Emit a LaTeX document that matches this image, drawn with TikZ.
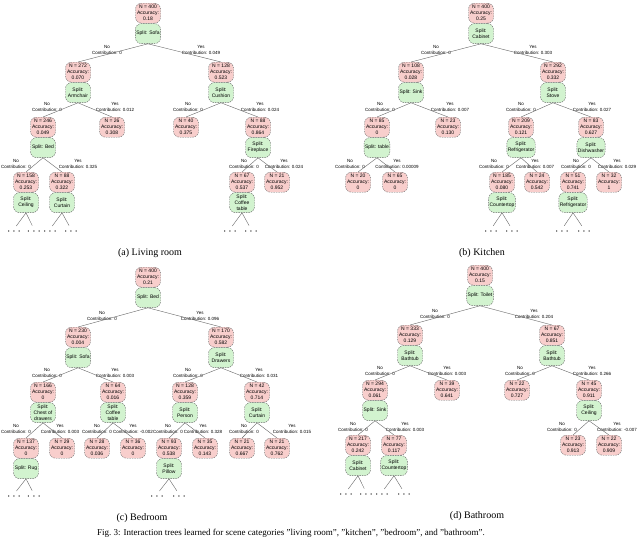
\documentclass[tikz,border=0pt]{standalone}
\usepackage{fontspec}
\setmainfont{Liberation Serif}
\newfontfamily\boxfont{Liberation Sans}
\usepackage{tikz}
\usetikzlibrary{positioning}

\definecolor{statred}{HTML}{F8CECC}
\definecolor{splitgreen}{HTML}{D2F3CF}

\begin{document}
\begin{tikzpicture}[
    x=1pt, y=-1pt,
    statbox/.style={rectangle, rounded corners=6pt, draw=black!60, dashed, dash pattern=on 1.5pt off 1pt, fill=statred, anchor=north, align=center, minimum width=25pt, minimum height=20pt, inner sep=1pt, font=\boxfont\fontsize{5}{6}\selectfont},
    splitbox/.style={statbox, fill=splitgreen},
    edgelbl/.style={align=center, inner sep=0pt, font=\boxfont\fontsize{4.5}{5.5}\selectfont},
    conn/.style={draw=black!60, line width=0.4pt},
    more/.style={inner sep=0pt, font=\fontsize{12}{12}\selectfont},
    subcap/.style={anchor=base, font=\fontsize{10}{12}\selectfont},
]
\useasboundingbox (0,0) rectangle (640,538);

% (a) living room
\node[statbox] (a0) at (148,3) {N = 400\\Accuracy:\\0.18};
\node[splitbox, below=0pt of a0] (a0s) {Split: Sofa};
\node[statbox] (a1) at (78,62) {N = 272\\Accuracy:\\0.070};
\node[splitbox, below=0pt of a1] (a1s) {Split:\\Armchair};
\node[statbox] (a2) at (221,62) {N = 128\\Accuracy:\\0.523};
\node[splitbox, below=0pt of a2] (a2s) {Split:\\Cushion};
\node[statbox] (a11) at (43,117) {N = 246\\Accuracy:\\0.049};
\node[splitbox, below=0pt of a11] (a11s) {Split: Bed};
\node[statbox] (a12) at (112,117) {N = 26\\Accuracy:\\0.308};
\node[statbox] (a21) at (186,117) {N = 40\\Accuracy:\\0.375};
\node[statbox] (a22) at (258,117) {N = 88\\Accuracy:\\0.864};
\node[splitbox, below=0pt of a22] (a22s) {Split:\\Fireplace};
\node[statbox] (a111) at (26,172) {N = 158\\Accuracy:\\0.253};
\node[splitbox, below=0pt of a111] (a111s) {Split:\\Ceiling};
\node[statbox] (a112) at (62,172) {N = 88\\Accuracy:\\0.322};
\node[splitbox, below=0pt of a112] (a112s) {Split:\\Curtain};
\node[statbox] (a221) at (242,172) {N = 67\\Accuracy:\\0.537};
\node[splitbox, below=0pt of a221] (a221s) {Split:\\Coffee\\table};
\node[statbox] (a222) at (277,172) {N = 21\\Accuracy:\\0.952};

\node[edgelbl] (la1) at (107,50) {No\\Contribution: 0};
\node[edgelbl] (la2) at (201,50) {Yes\\Contribution: 0.049};
\node[edgelbl] (la11) at (47,107) {No\\Contribution: 0};
\node[edgelbl] (la12) at (115,107) {Yes\\Contribution: 0.012};
\node[edgelbl] (la21) at (188,107) {No\\Contribution: 0};
\node[edgelbl] (la22) at (260,107) {Yes\\Contribution: 0.024};
\node[edgelbl] (la111) at (16,164) {No\\Contribution: 0};
\node[edgelbl] (la112) at (78,164) {Yes\\Contribution: 0.325};
\node[edgelbl] (la221) at (244,164) {No\\Contribution: 0};
\node[edgelbl] (la222) at (284,164) {Yes\\Contribution: 0.024};

\node[more] (ma1) at (14,232) {$\cdots$};
\node[more] (ma2) at (34,232) {$\cdots$};
\node[more] (ma3) at (50,232) {$\cdots$};
\node[more] (ma4) at (71,232) {$\cdots$};
\node[more] (ma5) at (230,232) {$\cdots$};
\node[more] (ma6) at (251,232) {$\cdots$};

\draw[conn] (a0s.south) -- (a1.north);
\draw[conn] (a0s.south) -- (a2.north);
\draw[conn] (a1s.south) -- (a11.north);
\draw[conn] (a1s.south) -- (a12.north);
\draw[conn] (a2s.south) -- (a21.north);
\draw[conn] (a2s.south) -- (a22.north);
\draw[conn] (a11s.south) -- (a111.north);
\draw[conn] (a11s.south) -- (a112.north);
\draw[conn] (a22s.south) -- (a221.north);
\draw[conn] (a22s.south) -- (a222.north);
\draw[conn, shorten >=4pt] (a111s.south) -- (ma1.north);
\draw[conn, shorten >=4pt] (a111s.south) -- (ma2.north);
\draw[conn, shorten >=4pt] (a112s.south) -- (ma3.north);
\draw[conn, shorten >=4pt] (a112s.south) -- (ma4.north);
\draw[conn, shorten >=4pt] (a221s.south) -- (ma5.north);
\draw[conn, shorten >=4pt] (a221s.south) -- (ma6.north);

\node[subcap] (capa) at (150,255) {(a) Living room};

% (b) kitchen
\node[statbox] (b0) at (481,3) {N = 400\\Accuracy:\\0.25};
\node[splitbox, below=0pt of b0] (b0s) {Split:\\Cabinet};
\node[statbox] (b1) at (411,62) {N = 108\\Accuracy:\\0.028};
\node[splitbox, below=0pt of b1] (b1s) {Split: Sink};
\node[statbox] (b2) at (553,62) {N = 292\\Accuracy:\\0.332};
\node[splitbox, below=0pt of b2] (b2s) {Split:\\Stove};
\node[statbox] (b11) at (377,117) {N = 85\\Accuracy:\\0};
\node[splitbox, below=0pt of b11] (b11s) {Split: table};
\node[statbox] (b12) at (448,117) {N = 23\\Accuracy:\\0.130};
\node[statbox] (b21) at (521,117) {N = 209\\Accuracy:\\0.121};
\node[splitbox, below=0pt of b21] (b21s) {Split:\\Refrigerator};
\node[statbox] (b22) at (591,117) {N = 83\\Accuracy:\\0.627};
\node[splitbox, below=0pt of b22] (b22s) {Split:\\Dishwasher};
\node[statbox] (b111) at (358,172) {N = 20\\Accuracy:\\0};
\node[statbox] (b112) at (395,172) {N = 65\\Accuracy:\\0};
\node[statbox] (b211) at (502,172) {N = 185\\Accuracy:\\0.080};
\node[splitbox, below=0pt of b211] (b211s) {Split:\\Countertop};
\node[statbox] (b212) at (537,172) {N = 24\\Accuracy:\\0.542};
\node[statbox] (b221) at (573,172) {N = 51\\Accuracy:\\0.741};
\node[splitbox, below=0pt of b221] (b221s) {Split:\\Refrigerator};
\node[statbox] (b222) at (609,172) {N = 32\\Accuracy:\\1};

\node[edgelbl] (lb1) at (436,50) {No\\Contribution: 0};
\node[edgelbl] (lb2) at (533,50) {Yes\\Contribution: 0.303};
\node[edgelbl] (lb11) at (380,107) {No\\Contribution: 0};
\node[edgelbl] (lb12) at (450,107) {Yes\\Contribution: 0.007};
\node[edgelbl] (lb21) at (521,107) {No\\Contribution: 0};
\node[edgelbl] (lb22) at (592,107) {Yes\\Contribution: 0.027};
\node[edgelbl] (lb111) at (350,164) {No\\Contribution: 0};
\node[edgelbl] (lb112) at (397,164) {Yes\\Contribution: 0.00009};
\node[edgelbl] (lb211) at (494,164) {No\\Contribution: 0};
\node[edgelbl] (lb212) at (535,164) {Yes\\Contribution: 0.007};
\node[edgelbl] (lb221) at (576,164) {No\\Contribution: 0};
\node[edgelbl] (lb222) at (617,164) {Yes\\Contribution: 0.029};

\node[more] (mb1) at (491,232) {$\cdots$};
\node[more] (mb2) at (512,232) {$\cdots$};
\node[more] (mb3) at (562,232) {$\cdots$};
\node[more] (mb4) at (584,232) {$\cdots$};

\draw[conn] (b0s.south) -- (b1.north);
\draw[conn] (b0s.south) -- (b2.north);
\draw[conn] (b1s.south) -- (b11.north);
\draw[conn] (b1s.south) -- (b12.north);
\draw[conn] (b2s.south) -- (b21.north);
\draw[conn] (b2s.south) -- (b22.north);
\draw[conn] (b11s.south) -- (b111.north);
\draw[conn] (b11s.south) -- (b112.north);
\draw[conn] (b21s.south) -- (b211.north);
\draw[conn] (b21s.south) -- (b212.north);
\draw[conn] (b22s.south) -- (b221.north);
\draw[conn] (b22s.south) -- (b222.north);
\draw[conn, shorten >=4pt] (b211s.south) -- (mb1.north);
\draw[conn, shorten >=4pt] (b211s.south) -- (mb2.north);
\draw[conn, shorten >=4pt] (b221s.south) -- (mb3.north);
\draw[conn, shorten >=4pt] (b221s.south) -- (mb4.north);

\node[subcap] (capb) at (482,255) {(b) Kitchen};

% (c) bedroom
\node[statbox] (c0) at (148,267) {N = 400\\Accuracy:\\0.21};
\node[splitbox, below=0pt of c0] (c0s) {Split: Bed};
\node[statbox] (c1) at (78,327) {N = 230\\Accuracy:\\0.004};
\node[splitbox, below=0pt of c1] (c1s) {Split: Sofa};
\node[statbox] (c2) at (221,327) {N = 170\\Accuracy:\\0.582};
\node[splitbox, below=0pt of c2] (c2s) {Split:\\Drawers};
\node[statbox] (c11) at (43,382) {N = 166\\Accuracy:\\0};
\node[splitbox, below=0pt of c11] (c11s) {Split:\\Chest of\\drawers};
\node[statbox] (c12) at (113,382) {N = 64\\Accuracy:\\0.016};
\node[splitbox, below=0pt of c12] (c12s) {Split:\\Coffee\\table};
\node[statbox] (c21) at (185,382) {N = 128\\Accuracy:\\0.359};
\node[splitbox, below=0pt of c21] (c21s) {Split:\\Person};
\node[statbox] (c22) at (257,382) {N = 42\\Accuracy:\\0.714};
\node[splitbox, below=0pt of c22] (c22s) {Split:\\Curtain};
\node[statbox] (c111) at (26,438) {N = 137\\Accuracy:\\0};
\node[splitbox, below=0pt of c111] (c111s) {Split: Rug};
\node[statbox] (c112) at (62,438) {N = 29\\Accuracy:\\0};
\node[statbox] (c121) at (97,438) {N = 28\\Accuracy:\\0.036};
\node[statbox] (c122) at (133,438) {N = 36\\Accuracy:\\0};
\node[statbox] (c211) at (169,438) {N = 93\\Accuracy:\\0.538};
\node[splitbox, below=0pt of c211] (c211s) {Split:\\Pillow};
\node[statbox] (c212) at (205,438) {N = 35\\Accuracy:\\0.143};
\node[statbox] (c221) at (242,438) {N = 21\\Accuracy:\\0.667};
\node[statbox] (c222) at (277,438) {N = 21\\Accuracy:\\0.762};

\node[edgelbl] (lc1) at (102,316) {No\\Contribution: 0};
\node[edgelbl] (lc2) at (200,316) {Yes\\Contribution: 0.096};
\node[edgelbl] (lc11) at (47,373) {No\\Contribution: 0};
\node[edgelbl] (lc12) at (115,373) {Yes\\Contribution: 0.003};
\node[edgelbl] (lc21) at (188,373) {No\\Contribution: 0};
\node[edgelbl] (lc22) at (259,373) {Yes\\Contribution: 0.031};
\node[edgelbl] (lc111) at (16,429) {No\\Contribution: 0};
\node[edgelbl] (lc112) at (60,429) {Yes\\Contribution: 0.003};
\node[edgelbl] (lc121) at (97,429) {No\\Contribution: 0};
\node[edgelbl] (lc122) at (133,429) {Yes\\Contribution: -0.002};
\node[edgelbl] (lc211) at (168,429) {No\\Contribution: 0};
\node[edgelbl] (lc212) at (203,429) {Yes\\Contribution: 0.328};
\node[edgelbl] (lc221) at (244,429) {No\\Contribution: 0};
\node[edgelbl] (lc222) at (292,429) {Yes\\Contribution: 0.015};

\node[more] (mc1) at (14,497) {$\cdots$};
\node[more] (mc2) at (34,497) {$\cdots$};
\node[more] (mc3) at (157,497) {$\cdots$};
\node[more] (mc4) at (179,497) {$\cdots$};

\draw[conn] (c0s.south) -- (c1.north);
\draw[conn] (c0s.south) -- (c2.north);
\draw[conn] (c1s.south) -- (c11.north);
\draw[conn] (c1s.south) -- (c12.north);
\draw[conn] (c2s.south) -- (c21.north);
\draw[conn] (c2s.south) -- (c22.north);
\draw[conn] (c11s.south) -- (c111.north);
\draw[conn] (c11s.south) -- (c112.north);
\draw[conn] (c12s.south) -- (c121.north);
\draw[conn] (c12s.south) -- (c122.north);
\draw[conn] (c21s.south) -- (c211.north);
\draw[conn] (c21s.south) -- (c212.north);
\draw[conn] (c22s.south) -- (c221.north);
\draw[conn] (c22s.south) -- (c222.north);
\draw[conn, shorten >=4pt] (c111s.south) -- (mc1.north);
\draw[conn, shorten >=4pt] (c111s.south) -- (mc2.north);
\draw[conn, shorten >=4pt] (c211s.south) -- (mc3.north);
\draw[conn, shorten >=4pt] (c211s.south) -- (mc4.north);

\node[subcap] (capc) at (142,520) {(c) Bedroom};

% (d) bathroom
\node[statbox] (d0) at (480,265) {N = 400\\Accuracy:\\0.15};
\node[splitbox, below=0pt of d0] (d0s) {Split: Toilet};
\node[statbox] (d1) at (410,325) {N = 333\\Accuracy:\\0.129};
\node[splitbox, below=0pt of d1] (d1s) {Split:\\Bathtub};
\node[statbox] (d2) at (552,325) {N = 67\\Accuracy:\\0.851};
\node[splitbox, below=0pt of d2] (d2s) {Split:\\Bathtub};
\node[statbox] (d11) at (375,380) {N = 294\\Accuracy:\\0.061};
\node[splitbox, below=0pt of d11] (d11s) {Split: Sink};
\node[statbox] (d12) at (447,380) {N = 39\\Accuracy:\\0.641};
\node[statbox] (d21) at (517,380) {N = 22\\Accuracy:\\0.727};
\node[statbox] (d22) at (589,380) {N = 45\\Accuracy:\\0.911};
\node[splitbox, below=0pt of d22] (d22s) {Split:\\Ceiling};
\node[statbox] (d111) at (358,435) {N = 217\\Accuracy:\\0.242};
\node[splitbox, below=0pt of d111] (d111s) {Split:\\Cabinet};
\node[statbox] (d112) at (394,435) {N = 77\\Accuracy:\\0.117};
\node[splitbox, below=0pt of d112] (d112s) {Split:\\Countertop};
\node[statbox] (d221) at (573,435) {N = 23\\Accuracy:\\0.913};
\node[statbox] (d222) at (609,435) {N = 22\\Accuracy:\\0.909};

\node[edgelbl] (ld1) at (435,314) {No\\Contribution: 0};
\node[edgelbl] (ld2) at (534,314) {Yes\\Contribution: 0.204};
\node[edgelbl] (ld11) at (380,371) {No\\Contribution: 0};
\node[edgelbl] (ld12) at (447,371) {Yes\\Contribution: 0.003};
\node[edgelbl] (ld21) at (520,371) {No\\Contribution: 0};
\node[edgelbl] (ld22) at (592,371) {Yes\\Contribution: 0.266};
\node[edgelbl] (ld111) at (353,427) {No\\Contribution: 0};
\node[edgelbl] (ld112) at (405,427) {Yes\\Contribution: 0.003};
\node[edgelbl] (ld221) at (562,427) {No\\Contribution: 0};
\node[edgelbl] (ld222) at (617,427) {Yes\\Contribution: -0.007};

\node[more] (md1) at (346,495) {$\cdots$};
\node[more] (md2) at (366,495) {$\cdots$};
\node[more] (md3) at (382,495) {$\cdots$};
\node[more] (md4) at (404,495) {$\cdots$};

\draw[conn] (d0s.south) -- (d1.north);
\draw[conn] (d0s.south) -- (d2.north);
\draw[conn] (d1s.south) -- (d11.north);
\draw[conn] (d1s.south) -- (d12.north);
\draw[conn] (d2s.south) -- (d21.north);
\draw[conn] (d2s.south) -- (d22.north);
\draw[conn] (d11s.south) -- (d111.north);
\draw[conn] (d11s.south) -- (d112.north);
\draw[conn] (d22s.south) -- (d221.north);
\draw[conn] (d22s.south) -- (d222.north);
\draw[conn, shorten >=4pt] (d111s.south) -- (md1.north);
\draw[conn, shorten >=4pt] (d111s.south) -- (md2.north);
\draw[conn, shorten >=4pt] (d112s.south) -- (md3.north);
\draw[conn, shorten >=4pt] (d112s.south) -- (md4.north);

\node[subcap] (capd) at (477,518) {(d) Bathroom};

\node[anchor=base west, inner sep=0pt, font=\fontsize{9}{11}\selectfont] (figcap) at (97,535) {Fig.~3: Interaction trees learned for scene categories ''living room'', ''kitchen'', ''bedroom'', and ''bathroom''.};
\end{tikzpicture}
\end{document}
